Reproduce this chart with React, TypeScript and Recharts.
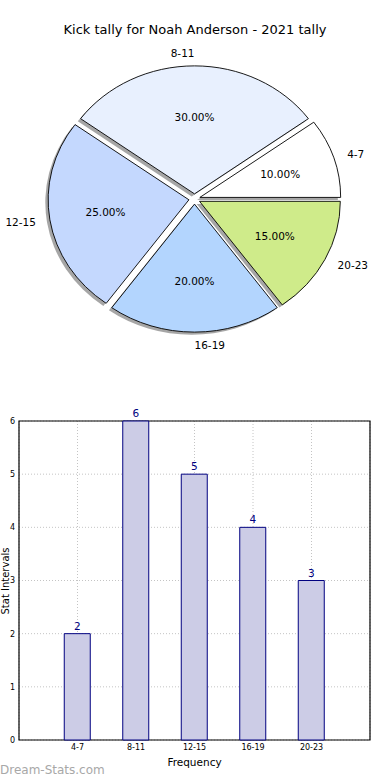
import { PieChart, Pie, BarChart, Bar, XAxis, YAxis, CartesianGrid, LabelList, ReferenceArea } from 'recharts';

const CATEGORIES = ['4-7', '8-11', '12-15', '16-19', '20-23'];
const COUNTS = [2, 6, 5, 4, 3];
const SLICE_COLORS = ['#ffffff', '#e8f0fe', '#c4d8fe', '#b3d5fe', '#cfeb8a'];
const Y_TICKS = [0, 1, 2, 3, 4, 5, 6];

const pieData = CATEGORIES.map((name, i) => ({ name, value: COUNTS[i] }));
const barData = CATEGORIES.map((name, i) => ({ x: i, name, count: COUNTS[i] }));

// matplotlib pie wasn't drawn with equal aspect, so it's an ellipse
const STRETCH_X = 1.1;
const EXPLODE = 0.04;
const SHADOW = 0.02;
const RAD = Math.PI / 180;

function wedgePath(cx: number, cy: number, rx: number, ry: number, a0: number, a1: number) {
  const x0 = cx + rx * Math.cos(a0 * RAD), y0 = cy - ry * Math.sin(a0 * RAD);
  const x1 = cx + rx * Math.cos(a1 * RAD), y1 = cy - ry * Math.sin(a1 * RAD);
  const large = a1 - a0 > 180 ? 1 : 0;
  return `M${cx},${cy} L${x0},${y0} A${rx},${ry} 0 ${large} 0 ${x1},${y1} Z`;
}

function geom(p: any) {
  const ry = p.outerRadius;
  const rx = ry * STRETCH_X;
  const cos = Math.cos(p.midAngle * RAD), sin = Math.sin(p.midAngle * RAD);
  return { rx, ry, cos, sin, ex: p.cx + EXPLODE * rx * cos, ey: p.cy - EXPLODE * ry * sin };
}

function ShadowLabel(p: any) {
  const g = geom(p);
  return (
    <path
      d={wedgePath(g.ex - SHADOW * g.rx, g.ey + SHADOW * g.ry, g.rx, g.ry, p.startAngle, p.endAngle)}
      fill="#4d4d4d" fillOpacity={0.5} stroke="none"
    />
  );
}

function WedgeLabel(p: any) {
  const g = geom(p);
  const anchor = g.cos > 1e-6 ? 'start' : g.cos < -1e-6 ? 'end' : g.sin > 0 ? 'end' : 'start';
  return (
    <g>
      <path
        d={wedgePath(g.ex, g.ey, g.rx, g.ry, p.startAngle, p.endAngle)}
        fill={SLICE_COLORS[p.index]} stroke="#000" strokeWidth={0.9}
      />
      <text x={g.ex + 1.1 * g.rx * g.cos} y={g.ey - 1.1 * g.ry * g.sin} textAnchor={anchor}
        dominantBaseline="central" fontSize={10.5} fill="#000">{p.name}</text>
      <text x={g.ex + 0.6 * g.rx * g.cos} y={g.ey - 0.6 * g.ry * g.sin} textAnchor="middle"
        dominantBaseline="central" fontSize={10.5} fill="#000">{(p.percent * 100).toFixed(2)}%</text>
    </g>
  );
}

export default function App() {
  return (
    <div style={{ position: 'absolute', left: 0, top: 0, width: 390, height: 780, background: '#fff', fontFamily: '"DejaVu Sans", sans-serif', overflow: 'hidden' }}>
      <div style={{ position: 'absolute', left: 0, top: 22, width: 390, textAlign: 'center', fontSize: 13, lineHeight: '16px', color: '#000' }}>
        Kick tally for Noah Anderson - 2021 tally
      </div>
      <div style={{ position: 'absolute', left: 0, top: 0 }}>
        <PieChart width={390} height={370} margin={{ top: 0, right: 0, bottom: 0, left: 0 }}>
          <Pie data={pieData} dataKey="value" nameKey="name" cx={194.5} cy={199} outerRadius={128}
            startAngle={0} endAngle={360} fill="none" stroke="none" labelLine={false}
            label={ShadowLabel} isAnimationActive={false} />
          <Pie data={pieData} dataKey="value" nameKey="name" cx={194.5} cy={199} outerRadius={128}
            startAngle={0} endAngle={360} fill="none" stroke="none" labelLine={false}
            label={WedgeLabel} isAnimationActive={false} />
        </PieChart>
      </div>
      <div style={{ position: 'absolute', left: 0, top: 390 }}>
        <BarChart width={390} height={390} data={barData} margin={{ top: 31, right: 20, bottom: 10, left: 0 }}>
          <CartesianGrid stroke="#c4c4c4" strokeDasharray="1 2" />
          <XAxis type="number" dataKey="x" domain={[-1, 5]} ticks={[0, 1, 2, 3, 4]}
            tickFormatter={(i) => CATEGORIES[i]} axisLine={false} tickLine={false} tickSize={0} tickMargin={4}
            tick={{ fill: '#000', fontSize: 8 }} height={30}
            label={{ value: 'Frequency', position: 'insideBottom', offset: 4, fill: '#000', fontSize: 10.5 }} />
          <YAxis domain={[0, 6]} ticks={Y_TICKS} width={19} axisLine={false} tickLine={false} tickSize={0}
            tickMargin={4} tick={{ fill: '#000', fontSize: 8 }} />
          <Bar dataKey="count" barSize={26} fill="#ccccE6" stroke="#000080" strokeWidth={1} isAnimationActive={false}>
            <LabelList dataKey="count" position="top" offset={4} fill="#000080" fontSize={10.5} />
          </Bar>
          <ReferenceArea x1={-1} x2={5} y1={0} y2={6} fill="none" stroke="#000" strokeWidth={1.2} ifOverflow="visible" />
        </BarChart>
      </div>
      <div style={{ position: 'absolute', left: 6, top: 581, transform: 'translate(-50%, -50%) rotate(-90deg)', whiteSpace: 'nowrap', fontSize: 10, lineHeight: '10px', color: '#000' }}>
        Stat Intervals
      </div>
      <div style={{ position: 'absolute', left: 0, top: 762, fontSize: 12, lineHeight: '16px', color: '#a8a8a8' }}>
        Dream-Stats.com
      </div>
    </div>
  );
}
